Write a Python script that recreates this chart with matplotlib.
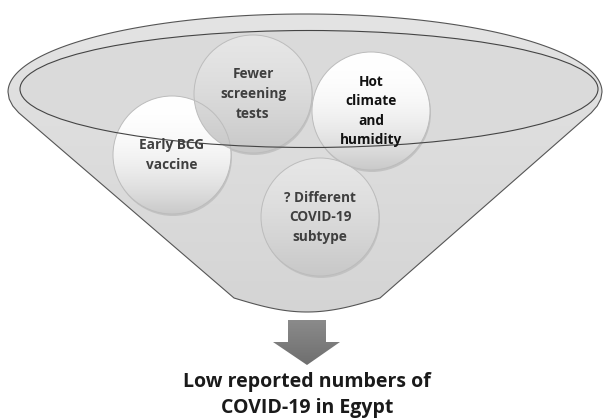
import numpy as np
import matplotlib
matplotlib.use("Agg")
from matplotlib import pyplot as plt
import matplotlib.patches as mpatches

# factors feeding the funnel
factor_labels = ["Early BCG\nvaccine", "Fewer\nscreening\ntests", "Hot\nclimate\nand\nhumidity",
                 "? Different\nCOVID-19\nsubtype"]
factor_styles = ["white", "gray", "white", "gray"]
outcome_label = "Low reported numbers of\nCOVID-19 in Egypt"

# layout in pixel coords (x right, y down)
circle_xy = [(172, 155), (253, 94), (371, 111), (320, 217)]
circle_r = 59

plt.rcParams["font.family"] = ["Open Sans", "DejaVu Sans"]

fig = plt.figure(figsize=(6.03, 4.18), dpi=100)
ax = fig.add_axes([0, 0, 1, 1])


def gradient(ax, extent, top, bottom, clip, z, power=1.0):
    t = np.linspace(0, 1, 200)[:, None] ** power
    top = np.array(matplotlib.colors.to_rgb(top))
    bottom = np.array(matplotlib.colors.to_rgb(bottom))
    img = top[None, None, :] * (1 - t[:, :, None]) + bottom[None, None, :] * t[:, :, None]
    img = np.repeat(img, 2, axis=1)
    im = ax.imshow(img, extent=extent, origin="upper", aspect="auto", zorder=z, interpolation="bilinear")
    im.set_clip_path(clip)


# funnel outline
cx, cy, a, b = 305, 92, 297, 78
t = np.linspace(np.pi, 0, 120)
top_x = cx + a * np.cos(t)
top_y = cy - b * np.sin(t)
# small rounded shoulders on both sides
sh = np.linspace(0, np.pi / 2.5, 15)
right_x = cx + a * np.cos(-sh)
right_y = cy - b * np.sin(-sh)
left_x = cx - a * np.cos(-sh[::-1])
left_y = cy - b * np.sin(-sh[::-1])
bot_x = np.linspace(380, 234, 40)
bot_y = 298 + 14 * np.sin(np.linspace(0, np.pi, 40))
verts = (list(zip(top_x, top_y)) + list(zip(right_x[1:4], right_y[1:4])) + list(zip(bot_x, bot_y))
         + list(zip(left_x[-4:-1], left_y[-4:-1])) + [(top_x[0], top_y[0])])
funnel = mpatches.Polygon(verts, closed=True, facecolor="none", edgecolor="#555555", lw=0.8, zorder=3)
ax.add_patch(funnel)
gradient(ax, (0, 603, 320, 10), "#e4e4e4", "#d4d4d4", funnel, 1)

# inner rim ellipse
rim_fill = mpatches.Ellipse((309, 89), 578, 117, facecolor="#dadada", edgecolor="none", zorder=2)
ax.add_patch(rim_fill)
rim_edge = mpatches.Ellipse((309, 89), 578, 117, facecolor="none", edgecolor="#444444", lw=0.8, zorder=6)
ax.add_patch(rim_edge)

# factor circles
for (x, y), label, style in zip(circle_xy, factor_labels, factor_styles):
    shadow = mpatches.Circle((x + 1, y + 2), circle_r, facecolor="#c2c2c2", edgecolor="none", zorder=3.5)
    ax.add_patch(shadow)
    c = mpatches.Circle((x, y), circle_r, facecolor="none", edgecolor="#bcbcbc", lw=0.7, zorder=5)
    ax.add_patch(c)
    ext = (x - circle_r, x + circle_r, y + circle_r, y - circle_r)
    if style == "white":
        gradient(ax, ext, "#ffffff", "#c9c9c9", c, 4, power=2.2)
    else:
        gradient(ax, ext, "#e6e6e6", "#c8c8c8", c, 4, power=1.4)
    color = "#111111" if label.startswith("Hot") else "#3f3f3f"
    ax.text(x, y, label, ha="center", va="center", fontsize=9.8, fontweight="bold",
            color=color, linespacing=1.5, zorder=7)

# arrow down
arrow = mpatches.Polygon([(288, 320), (326, 320), (326, 342), (340, 342), (307, 365),
                          (273, 342), (288, 342)], closed=True, facecolor="none", edgecolor="none")
ax.add_patch(arrow)
gradient(ax, (270, 345, 366, 318), "#8c8c8c", "#6e6e6e", arrow, 3)

ax.text(307, 395, outcome_label, ha="center", va="center", fontsize=14, fontweight="bold",
        color="#1a1a1a", linespacing=1.35, zorder=7)

ax.set_xlim(0, 603)
ax.set_ylim(418, 0)
ax.axis("off")
fig.savefig("out.png", dpi=100, facecolor="white")
